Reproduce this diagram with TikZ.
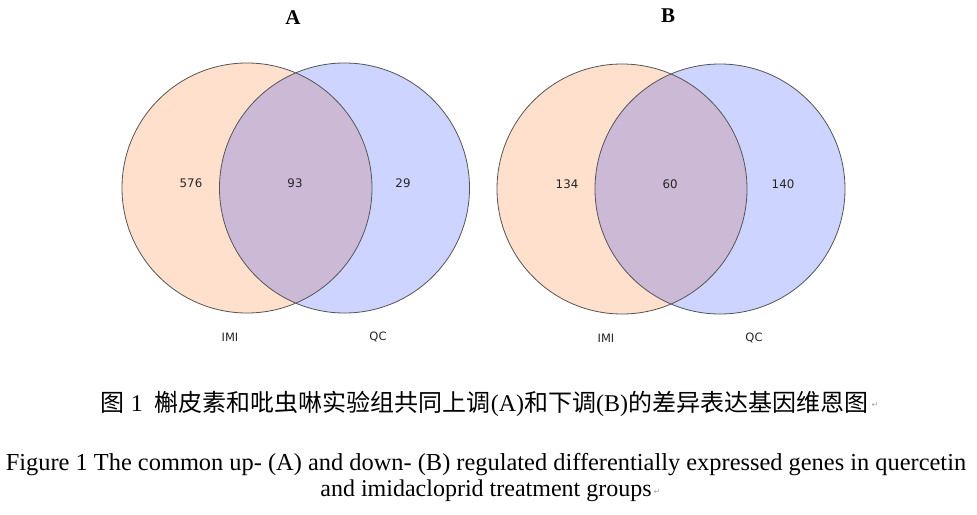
\documentclass[tikz,border=0pt]{standalone}
\usepackage{fontspec}
\setmainfont{Liberation Serif}
\newfontfamily\cjk{Noto Sans CJK SC}
\newfontfamily\vennfont{DejaVu Sans}
\definecolor{imiorange}{RGB}{255,224,204}
\definecolor{qcblue}{RGB}{204,212,255}
\definecolor{overlapviolet}{RGB}{204,185,214}
\definecolor{edgegray}{RGB}{85,85,85}

\begin{document}
\begin{tikzpicture}[x=1pt, y=-1pt,
    venncount/.style={font=\vennfont\fontsize{11.8}{13}\selectfont, text=black!85},
    setlabel/.style={font=\vennfont\fontsize{11.5}{13}\selectfont, text=black!85},
    paneltitle/.style={font=\fontsize{21}{24}\selectfont\bfseries},
    captionline/.style={font=\fontsize{24}{28}\selectfont, inner sep=0pt, anchor=base},
    parmark/.style={font=\vennfont\fontsize{8}{9}\selectfont, text=gray!70, inner sep=0pt}]

    \useasboundingbox[fill=white] (0,0) rectangle (977,514);

    % Circulos de Venn
    \foreach \xl/\xr/\yc in {247/344.5/188, 622/720/189} {
        \fill[imiorange] (\xl,\yc) circle[radius=125];
        \fill[qcblue] (\xr,\yc) circle[radius=125];
        \begin{scope}
            \clip (\xl,\yc) circle[radius=125];
            \fill[overlapviolet] (\xr,\yc) circle[radius=125];
        \end{scope}
        \draw[edgegray, line width=0.8pt] (\xl,\yc) circle[radius=125] (\xr,\yc) circle[radius=125];
    }

    % Diagrama A
    \node[paneltitle] (titleA) at (293,18) {A};
    \node[venncount] (imionlyA) at (191,183) {576};
    \node[venncount] (commonA) at (295,183) {93};
    \node[venncount] (qconlyA) at (403,183) {29};
    \node[setlabel] (imiA) at (230,337) {IMI};
    \node[setlabel] (qcA) at (378,337) {QC};

    % Diagrama B
    \node[paneltitle] (titleB) at (668,16) {B};
    \node[venncount] (imionlyB) at (567,184) {134};
    \node[venncount] (commonB) at (670,184) {60};
    \node[venncount] (qconlyB) at (783,184) {140};
    \node[setlabel] (imiB) at (606,338) {IMI};
    \node[setlabel] (qcB) at (754,338) {QC};

    % Titulos
    \node[captionline] (captioncn) at (484.5,411) {{\cjk 图}\ 1\ \ {\cjk 槲皮素和吡虫啉实验组共同上调}(A){\cjk 和下调}(B){\cjk 的差异表达基因维恩图}};
    \node[parmark] (markcn) at (875,405) {↵};
    \node[captionline, font=\fontsize{24.4}{28}\selectfont] (captionen) at (486,470) {Figure 1 The common up- (A) and down- (B) regulated differentially expressed genes in quercetin};
    \node[captionline] (captionen2) at (486,496) {and imidacloprid treatment groups};
    \node[parmark] (marken) at (657,492) {↵};
\end{tikzpicture}
\end{document}
